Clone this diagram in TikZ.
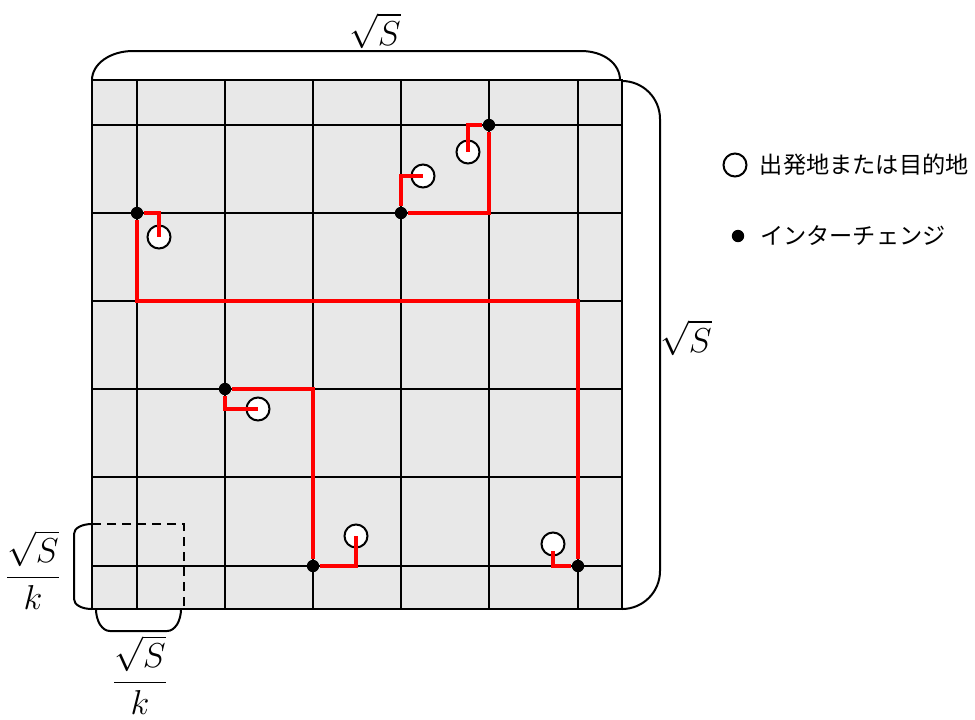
\documentclass[tikz,border=0pt]{standalone}
\usepackage{fontspec}
\usepackage{amsmath}
\usepackage{tikz}
\usetikzlibrary{positioning}
\newfontfamily\jpfont{Noto Sans CJK JP}

\begin{document}
\begin{tikzpicture}[
        x=0.5pt, y=-0.5pt,
        gridline/.style={line width=1pt},
        brace/.style={line width=1pt},
        cellbox/.style={line width=0.75pt, dash pattern=on 4.5pt off 3pt},
        od/.style={draw, circle, fill=white, line width=1pt, minimum size=11.5pt,
                   inner sep=0pt},
        ic/.style={circle, fill=black, minimum size=6.2pt, inner sep=0pt},
        route/.style={draw=red, line width=2.3pt},
        sizelabel/.style={font=\LARGE, inner sep=0pt},
        legendtext/.style={font=\jpfont\fontsize{11.6}{14}\selectfont, inner sep=0pt}
    ]
        \useasboundingbox (0,0) rectangle (975,719);

        \fill[black!9] (92,80) rectangle (622,609);
        \draw[gridline] (137,80) -- (137,609) (225,80) -- (225,609) (313,80) -- (313,609)
                        (401,80) -- (401,609) (489,80) -- (489,609) (578,80) -- (578,609);
        \draw[gridline] (92,125) -- (622,125) (92,213) -- (622,213) (92,301) -- (622,301)
                        (92,389) -- (622,389) (92,477) -- (622,477) (92,566) -- (622,566);
        \draw[gridline] (92,80) rectangle (622,609);
        \draw[cellbox] (92,524) rectangle (184,609);

        \draw[brace] (92,80) .. controls (92,64) and (110,51) .. (133,51) -- (581,51)
                     .. controls (604,51) and (620,64) .. (620,80);
        \draw[brace] (622,81) .. controls (643,81) and (660,98) .. (660,119) -- (660,571)
                     .. controls (660,592) and (643,609) .. (622,609);
        \draw[brace] (92,524) .. controls (82,524) and (74,528) .. (74,534) -- (74,599)
                     .. controls (74,605) and (82,609) .. (92,609);
        \draw[brace] (96,609) .. controls (96,621) and (102,631) .. (110,631) -- (167,631)
                     .. controls (175,631) and (181,621) .. (181,609);

        \node[sizelabel] (sidetop) at (375,31) {$\sqrt{S}$};
        \node[sizelabel] (sideright) at (686,338) {$\sqrt{S}$};
        \node[sizelabel] (cellleft) at (33,570) {$\dfrac{\sqrt{S}}{k}$};
        \node[sizelabel] (cellbottom) at (140,675) {$\dfrac{\sqrt{S}}{k}$};

        \node[od] (od1) at (468,152) {};
        \node[od] (od2) at (423,176) {};
        \node[od] (od3) at (159,237) {};
        \node[od] (od4) at (356,536) {};
        \node[od] (od5) at (258,409) {};
        \node[od] (od6) at (553,544) {};

        \node[ic] (ic1) at (489,125) {};
        \node[ic] (ic2) at (401,213) {};
        \node[ic] (ic3) at (137,213) {};
        \node[ic] (ic4) at (313,566) {};
        \node[ic] (ic5) at (225,389) {};
        \node[ic] (ic6) at (578,566) {};
        \coordinate (bend) at (578,301);

        \draw[route] (ic1) -| (od1.center);
        \draw[route] (ic1) |- (ic2);
        \draw[route] (ic2) |- (od2.center);
        \draw[route] (ic3) -| (od3.center);
        \draw[route] (ic3) |- (bend) -- (ic6);
        \draw[route] (ic6) -| ([yshift=-3.5pt]od6.center);
        \draw[route] (ic4) -| (od4.center);
        \draw[route] (ic4) |- (ic5);
        \draw[route] (ic5) |- (od5.center);

        \node[od] (legod) at (735,165) {};
        \node[legendtext, right=6pt of legod] (legodtext) {出発地または目的地};
        \node[ic] (legic) at (738,236) {};
        \node[legendtext, right=7.5pt of legic] (legictext) {インターチェンジ};
    \end{tikzpicture}
\end{document}
